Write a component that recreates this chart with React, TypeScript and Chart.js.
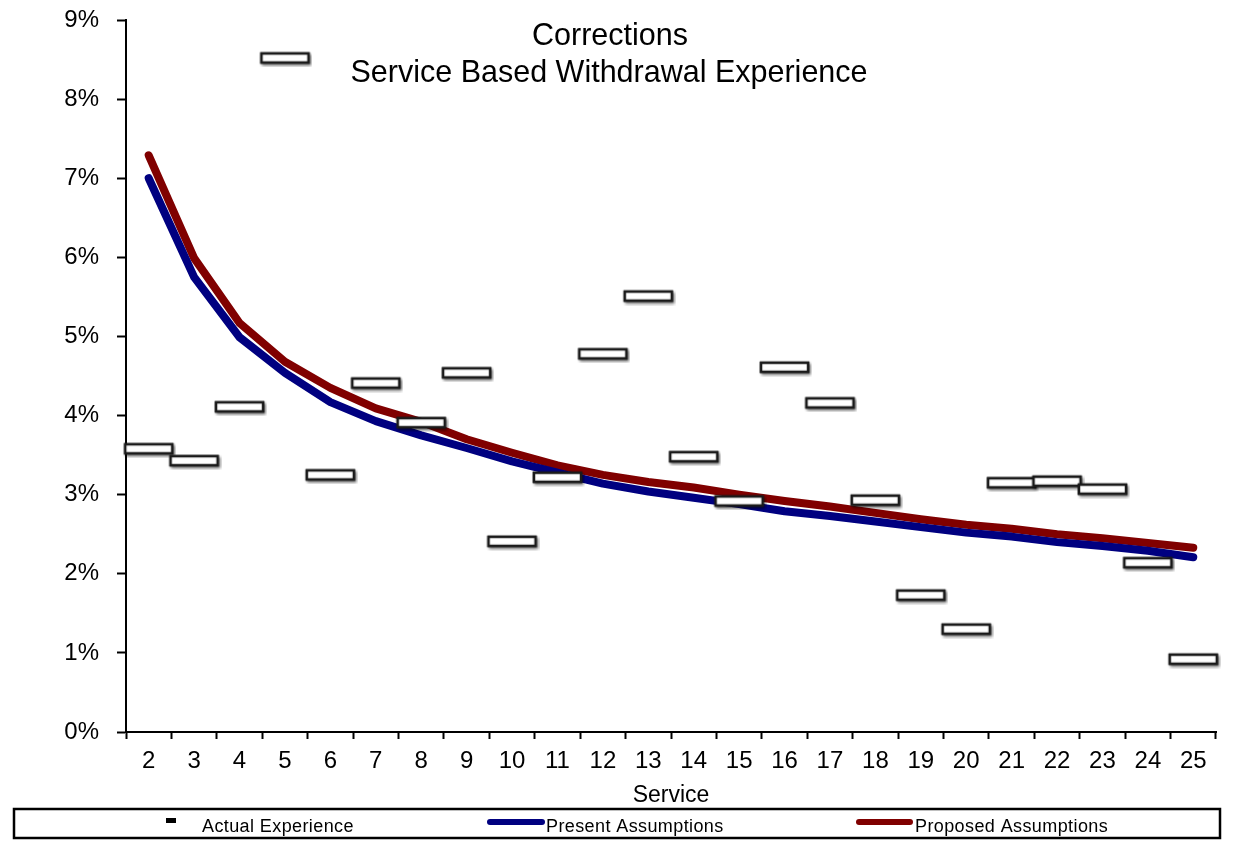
import React, { useEffect, useRef } from 'react';
import { Chart, registerables } from 'chart.js';

Chart.register(...registerables);

const FONT = "'Liberation Sans', Arial, sans-serif";

const titleLines = ['Corrections', 'Service Based Withdrawal Experience'];
const xAxisTitle = 'Service';
const categories = ['2', '3', '4', '5', '6', '7', '8', '9', '10', '11', '12', '13', '14', '15', '16', '17', '18', '19', '20', '21', '22', '23', '24', '25'];
const actualExperience = [3.58, 3.43, 4.11, 8.52, 3.25, 4.41, 3.91, 4.54, 2.41, 3.22, 4.78, 5.51, 3.48, 2.92, 4.61, 4.16, 2.93, 1.73, 1.30, 3.15, 3.17, 3.07, 2.14, 0.92];
const presentAssumptions = [7.00, 5.75, 4.99, 4.54, 4.17, 3.93, 3.75, 3.59, 3.42, 3.28, 3.14, 3.04, 2.96, 2.88, 2.79, 2.73, 2.66, 2.59, 2.52, 2.47, 2.40, 2.35, 2.29, 2.21];
const proposedAssumptions = [7.29, 5.99, 5.17, 4.68, 4.35, 4.09, 3.92, 3.70, 3.53, 3.37, 3.25, 3.16, 3.09, 3.00, 2.92, 2.85, 2.77, 2.69, 2.62, 2.57, 2.50, 2.45, 2.39, 2.33];
const seriesNames = ['Actual Experience', 'Present Assumptions', 'Proposed Assumptions'];
const yTicks = [0, 1, 2, 3, 4, 5, 6, 7, 8, 9];

const BLUE = '#000080';
const RED = '#800000';

function makeMarker(): HTMLCanvasElement {
  const c = document.createElement('canvas');
  c.width = 55;
  c.height = 19;
  const ctx = c.getContext('2d')!;
  ctx.save();
  ctx.shadowColor = 'rgba(0,0,0,0.45)';
  ctx.shadowBlur = 3;
  ctx.shadowOffsetX = 1.5;
  ctx.shadowOffsetY = 2;
  ctx.fillStyle = '#ffffff';
  ctx.strokeStyle = '#1a1a1a';
  ctx.lineWidth = 2.5;
  ctx.fillRect(4, 5, 47, 9);
  ctx.strokeRect(4, 5, 47, 9);
  ctx.restore();
  ctx.fillStyle = '#ffffff';
  ctx.fillRect(5, 6, 45, 7);
  ctx.strokeStyle = '#1a1a1a';
  ctx.lineWidth = 2.5;
  ctx.strokeRect(4, 5, 47, 9);
  return c;
}

const titlePlugin = {
  id: 'customTitle',
  afterDraw(chart: any) {
    const ctx = chart.ctx;
    ctx.save();
    ctx.fillStyle = '#000';
    ctx.font = `30.5px ${FONT}`;
    ctx.textAlign = 'center';
    ctx.textBaseline = 'alphabetic';
    ctx.fillText(titleLines[0], 610, 45);
    ctx.fillText(titleLines[1], 609, 82);
    ctx.restore();
  },
};

const legendPlugin = {
  id: 'customLegend',
  afterDraw(chart: any) {
    const ctx = chart.ctx;
    ctx.save();
    ctx.strokeStyle = '#000';
    ctx.lineWidth = 2.5;
    ctx.strokeRect(14, 809, 1206, 29);
    const base = 832;
    ctx.fillStyle = '#000';
    ctx.fillRect(166, 818, 10, 5);
    ctx.font = `18px ${FONT}`;
    (ctx as any).letterSpacing = '0.4px';
    ctx.textBaseline = 'alphabetic';
    ctx.textAlign = 'left';
    ctx.fillText(seriesNames[0], 202, base);
    ctx.strokeStyle = BLUE;
    ctx.lineWidth = 6;
    ctx.lineCap = 'round';
    ctx.beginPath();
    ctx.moveTo(490, 822);
    ctx.lineTo(542, 822);
    ctx.stroke();
    ctx.fillText(seriesNames[1], 546, base);
    ctx.strokeStyle = RED;
    ctx.beginPath();
    ctx.moveTo(859, 822);
    ctx.lineTo(910, 822);
    ctx.stroke();
    ctx.fillText(seriesNames[2], 915, base);
    ctx.restore();
  },
};

export default function App() {
  const ref = useRef<HTMLCanvasElement | null>(null);
  useEffect(() => {
    document.body.style.margin = '0';
    const canvas = ref.current!;
    const marker = makeMarker();
    const chart = new Chart(canvas, {
      type: 'line',
      data: {
        labels: categories,
        datasets: [
          {
            label: seriesNames[0],
            data: actualExperience,
            showLine: false,
            pointStyle: marker as any,
            pointRadius: 10,
            borderColor: '#000',
            backgroundColor: '#fff',
          },
          {
            label: seriesNames[1],
            data: presentAssumptions,
            borderColor: BLUE,
            backgroundColor: BLUE,
            borderWidth: 8,
            pointRadius: 0,
            borderCapStyle: 'round',
            borderJoinStyle: 'round',
            tension: 0,
          },
          {
            label: seriesNames[2],
            data: proposedAssumptions,
            borderColor: RED,
            backgroundColor: RED,
            borderWidth: 8,
            pointRadius: 0,
            borderCapStyle: 'round',
            borderJoinStyle: 'round',
            tension: 0,
          },
        ],
      },
      options: {
        responsive: false,
        animation: false,
        devicePixelRatio: 1,
        events: [],
        layout: { padding: { left: 0, right: 25, top: 20, bottom: 43 } },
        plugins: {
          legend: { display: false },
          title: { display: false },
          tooltip: { enabled: false },
        },
        scales: {
          x: {
            type: 'category',
            offset: true,
            grid: {
              offset: true,
              drawOnChartArea: false,
              drawTicks: true,
              tickLength: 7,
              tickColor: '#000',
              tickWidth: 2,
            },
            border: { color: '#000', width: 2 },
            ticks: {
              color: '#000',
              font: { family: FONT, size: 24 },
              padding: 8,
              maxRotation: 0,
              autoSkip: false,
            },
            title: {
              display: true,
              text: xAxisTitle,
              color: '#000',
              font: { family: FONT, size: 23 },
              padding: { top: 0, bottom: -3 },
            },
            afterFit(scale: any) {
              scale.height = 74;
              scale.paddingLeft = 0;
              scale.paddingRight = 0;
            },
          },
          y: {
            min: 0,
            max: 9,
            afterBuildTicks(scale: any) {
              scale.ticks = yTicks.map((v) => ({ value: v }));
            },
            grid: {
              drawOnChartArea: false,
              drawTicks: true,
              tickLength: 9,
              tickColor: '#000',
              tickWidth: 2,
            },
            border: { color: '#000', width: 2 },
            ticks: {
              color: '#000',
              font: { family: FONT, size: 24 },
              padding: 18,
              callback: (v: any) => `${v}%`,
            },
            afterFit(scale: any) {
              scale.width = 126;
              scale.paddingTop = 0;
              scale.paddingBottom = 0;
            },
          },
        },
      },
      plugins: [titlePlugin, legendPlugin],
    });
    return () => chart.destroy();
  }, []);
  return (
    <div style={{ width: 1241, height: 849 }}>
      <canvas ref={ref} width={1241} height={849} />
    </div>
  );
}
